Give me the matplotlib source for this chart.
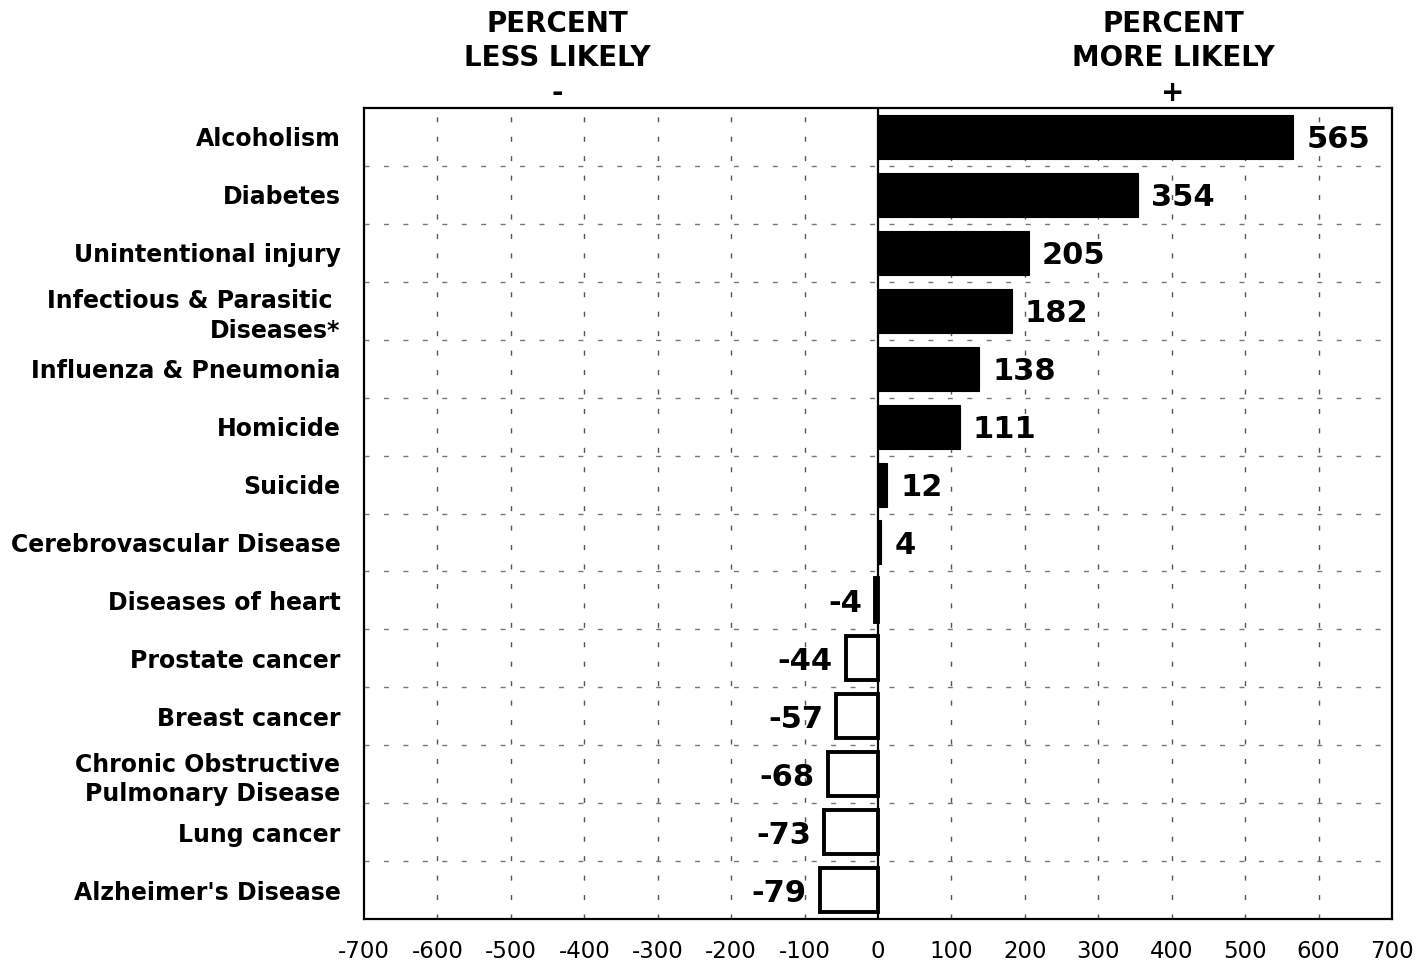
import numpy as np
import matplotlib
matplotlib.use("Agg")
import matplotlib.pyplot as plt

# Data (top to bottom)
causes = ["Alcoholism", "Diabetes", "Unintentional injury",
          "Infectious & Parasitic \nDiseases*", "Influenza & Pneumonia",
          "Homicide", "Suicide", "Cerebrovascular Disease",
          "Diseases of heart", "Prostate cancer", "Breast cancer",
          "Chronic Obstructive\nPulmonary Disease", "Lung cancer",
          "Alzheimer's Disease"]
pct_diff = [565, 354, 205, 182, 138, 111, 12, 4, -4, -44, -57, -68, -73, -79]
x_ticks = list(range(-700, 701, 100))

plt.rcParams["font.family"] = ["DejaVu Sans"]

fig = plt.figure(figsize=(14.18, 9.6), dpi=100)
ax = fig.add_axes([0.2567, 0.0427, 0.7250, 0.8448])

y = np.arange(len(causes))
vals = np.array(pct_diff)

pos = vals > 0
ax.barh(y[pos], vals[pos], height=0.76, color="black",
        edgecolor="black", linewidth=0.8, zorder=3)
ax.barh(y[~pos], vals[~pos], height=0.76, color="white",
        edgecolor="black", linewidth=2.8, zorder=3)

ax.axvline(0, color="black", linewidth=1.6, zorder=4)

# value labels
for yi, v in zip(y, vals):
    if v > 0:
        ax.text(v + 18, yi, f"{v}", ha="left", va="center_baseline",
                fontsize=22, fontweight="bold", zorder=5)
    else:
        ax.text(v - 18, yi, f"{v}", ha="right", va="center_baseline",
                fontsize=22, fontweight="bold", zorder=5)

ax.set_xlim(-700, 700)
ax.set_ylim(len(causes) - 0.5, -0.5)
ax.set_xticks(x_ticks)
ax.set_xticklabels([str(t) for t in x_ticks], fontsize=16.5)
ax.set_yticks(y)
ax.set_yticklabels(causes, fontsize=17, fontweight="bold", linespacing=1.3)
ax.tick_params(axis="both", length=0)
ax.tick_params(axis="y", pad=17)
ax.tick_params(axis="x", pad=15)

# grid
for xv in x_ticks[1:-1]:
    if xv == 0:
        continue
    ax.axvline(xv, color="#555555", linewidth=1.0,
               linestyle=(0, (3.6, 10.4)), zorder=1)
for yb in np.arange(0.5, len(causes) - 0.5, 1):
    ax.axhline(yb, color="#777777", linewidth=1.0,
               linestyle=(0, (3.6, 10.4)), zorder=1)

for s in ax.spines.values():
    s.set_linewidth(1.6)

# headers
fig.text(557 / 1418, 0.99, "PERCENT\nLESS LIKELY\n-", ha="center", va="top",
         fontsize=20, fontweight="bold", linespacing=1.3)
fig.text(1173 / 1418, 0.99, "PERCENT\nMORE LIKELY\n+", ha="center", va="top",
         fontsize=20, fontweight="bold", linespacing=1.3)

fig.savefig("out.png", dpi=100)
